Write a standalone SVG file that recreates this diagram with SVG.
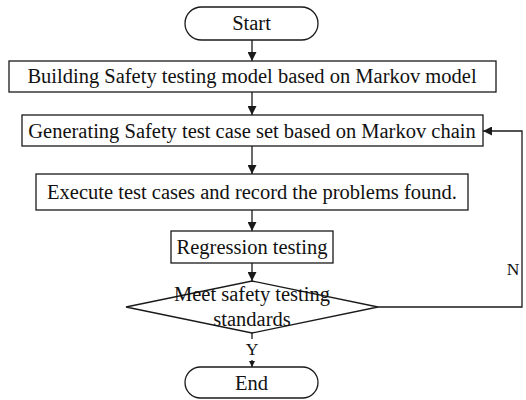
<svg xmlns="http://www.w3.org/2000/svg" width="526" height="400" viewBox="0 0 526 400">
  <style>
    .shape { fill: #ffffff; stroke: #1a1a1a; stroke-width: 1.3; }
    .label { font-family: "Liberation Serif", "Times New Roman", serif; font-size: 20.5px; fill: #111111; text-anchor: middle; }
    .small { font-family: "Liberation Serif", "Times New Roman", serif; font-size: 17.5px; fill: #111111; text-anchor: middle; }
    .wire { fill: none; stroke: #1a1a1a; stroke-width: 1.3; }
  </style>
  <defs>
    <marker id="arrow" viewBox="0 0 10 10" refX="10" refY="5" markerWidth="9" markerHeight="9" markerUnits="userSpaceOnUse" orient="auto">
      <path d="M0,0 L10,5 L0,10 Z" fill="#1a1a1a"/>
    </marker>
    <marker id="arrow-small" viewBox="0 0 10 10" refX="10" refY="5" markerWidth="6" markerHeight="6" markerUnits="userSpaceOnUse" orient="auto">
      <path d="M0,0 L10,5 L0,10 Z" fill="#1a1a1a"/>
    </marker>
  </defs>

  <!-- connectors -->
  <g id="connectors">
    <line class="wire" x1="252" y1="40" x2="252" y2="61" marker-end="url(#arrow)"/>
    <line class="wire" x1="252" y1="92" x2="252" y2="115" marker-end="url(#arrow)"/>
    <line class="wire" x1="252" y1="146" x2="252" y2="174" marker-end="url(#arrow)"/>
    <line class="wire" x1="252" y1="210" x2="252" y2="231" marker-end="url(#arrow)"/>
    <line class="wire" x1="252" y1="263" x2="252" y2="281" marker-end="url(#arrow)"/>
    <line class="wire" x1="252" y1="333" x2="252" y2="339"/>
    <line class="wire" x1="252" y1="360" x2="252" y2="367" marker-end="url(#arrow-small)"/>
    <polyline class="wire" points="378,307 522,307 522,131 483,131" marker-end="url(#arrow)"/>
    <text class="small" x="252" y="355">Y</text>
    <text class="small" x="513" y="275" text-anchor="start">N</text>
  </g>

  <g id="start">
    <rect class="shape" x="185" y="7" width="133" height="33" rx="16.5"/>
    <text class="label" x="251.5" y="30">Start</text>
  </g>

  <g id="build-model">
    <rect class="shape" x="9" y="61" width="487" height="31"/>
    <text class="label" x="252" y="83">Building Safety testing model based on Markov model</text>
  </g>

  <g id="generate-cases">
    <rect class="shape" x="22" y="115" width="461" height="31"/>
    <text class="label" x="252" y="137.5">Generating Safety test case set based on Markov chain</text>
  </g>

  <g id="execute">
    <rect class="shape" x="36" y="174" width="432" height="36"/>
    <text class="label" x="252" y="199">Execute test cases and record the problems found.</text>
  </g>

  <g id="regression">
    <rect class="shape" x="171" y="231" width="162" height="32"/>
    <text class="label" x="252" y="254">Regression testing</text>
  </g>

  <g id="decision">
    <polygon class="shape" points="252,281 378,307 252,333 126,307"/>
    <text class="label" x="252" y="301">Meet safety testing</text>
    <text class="label" x="252" y="325.5">standards</text>
  </g>

  <g id="end">
    <rect class="shape" x="185" y="367" width="133" height="31" rx="15.5"/>
    <text class="label" x="251.5" y="389.5">End</text>
  </g>
</svg>
